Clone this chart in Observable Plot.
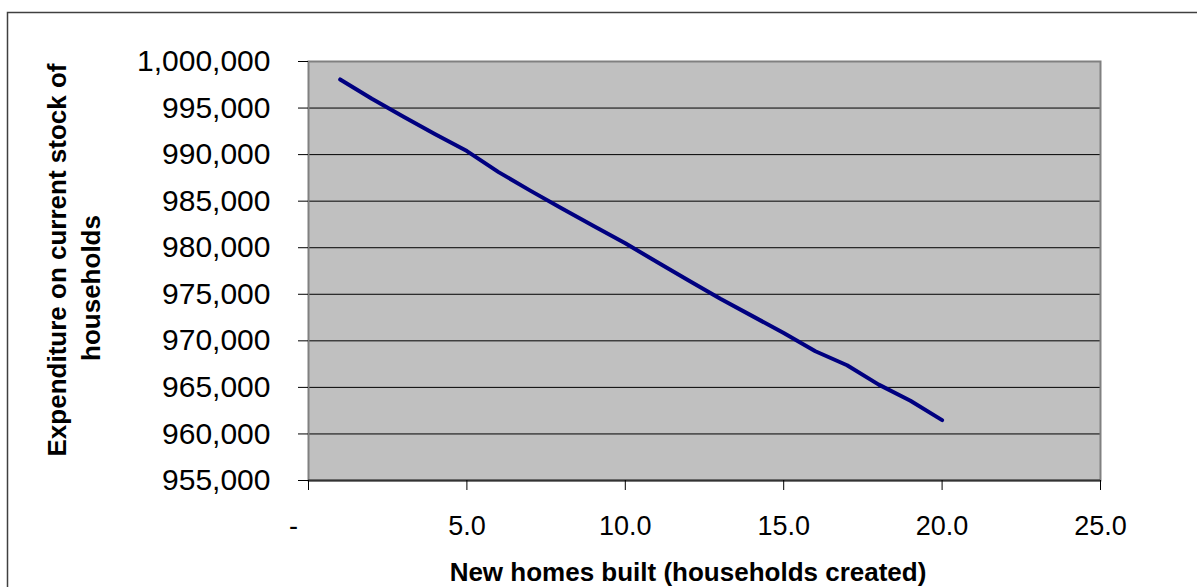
<!DOCTYPE html>
<html>
<head>
<meta charset="utf-8">
<script src="https://cdn.jsdelivr.net/npm/d3@7"></script>
<script src="https://cdn.jsdelivr.net/npm/@observablehq/plot@0.6"></script>
<style>
  html, body { margin: 0; padding: 0; background: #fff; }
  #chart svg { display: block; }
</style>
</head>
<body>
<div id="chart"></div>
<script>
// Data
const homesBuilt = [1, 2, 3, 4, 5, 6, 7, 8, 9, 10, 11, 12, 13, 14, 15, 16, 17, 18, 19, 20];
const expenditure = [998070, 996000, 994070, 992190, 990380, 988120, 986130, 984220, 982330, 980470,
                     978470, 976480, 974510, 972680, 970830, 968880, 967380, 965300, 963560, 961480];
const yTicks = [955000, 960000, 965000, 970000, 975000, 980000, 985000, 990000, 995000, 1000000];
const yGrid = [960000, 965000, 970000, 975000, 980000, 985000, 990000, 995000];
const xTicks = [0, 5, 10, 15, 20, 25];
const xTitle = "New homes built (households created)";
const yTitleLines = ["Expenditure on current stock of", "households"];

const data = homesBuilt.map((x, i) => ({x, y: expenditure[i]}));
const FONT = "'Liberation Sans', Arial, Helvetica, sans-serif";

const chart = Plot.plot({
  width: 1197,
  height: 587,
  marginLeft: 308,
  marginRight: 97,
  marginTop: 61,
  marginBottom: 107,
  style: {fontFamily: FONT, background: "transparent", color: "#000"},
  x: {domain: [0, 25]},
  y: {domain: [955000, 1000000]},
  marks: [
    Plot.frame({fill: "#c0c0c0", stroke: null}),
    Plot.ruleY(yGrid, {stroke: "#000", strokeWidth: 1}),
    Plot.frame({stroke: "#808080", strokeWidth: 2}),
    Plot.ruleY([955000], {stroke: "#333", strokeWidth: 2}),
    Plot.axisY({
      ticks: yTicks,
      tickFormat: d3.format(","),
      tickSize: 10,
      tickPadding: 28,
      fontSize: 30,
      stroke: "#000",
      label: null
    }),
    Plot.axisX({
      ticks: xTicks,
      tickFormat: d => d === 0 ? "-\u00a0\u00a0\u00a0\u00a0" : d.toFixed(1),
      tickSize: 10,
      tickPadding: 25,
      fontSize: 27,
      stroke: "#000",
      label: null
    }),
    Plot.line(data, {x: "x", y: "y", stroke: "#000080", strokeWidth: 4, strokeLinecap: "round", strokeLinejoin: "round"})
  ]
});

document.getElementById("chart").appendChild(chart);

const svg = d3.select(chart);
// outer chart-area border
svg.insert("rect", ":first-child")
  .attr("x", 7.5).attr("y", 12.5)
  .attr("width", 1200).attr("height", 600)
  .attr("fill", "#fff").attr("stroke", "#404040").attr("stroke-width", 1.5);

svg.append("text")
  .attr("x", 688).attr("y", 581)
  .attr("text-anchor", "middle")
  .attr("font-family", FONT).attr("font-weight", "bold").attr("font-size", 26)
  .attr("fill", "#000")
  .text(xTitle);

const yCenters = [[66, 260], [100, 288]];
yTitleLines.forEach((t, i) => {
  const [bx, cy] = yCenters[i];
  svg.append("text")
    .attr("transform", `translate(${bx},${cy}) rotate(-90)`)
    .attr("text-anchor", "middle")
    .attr("font-family", FONT).attr("font-weight", "bold").attr("font-size", 26)
    .attr("fill", "#000")
    .text(t);
});
</script>
</body>
</html>
